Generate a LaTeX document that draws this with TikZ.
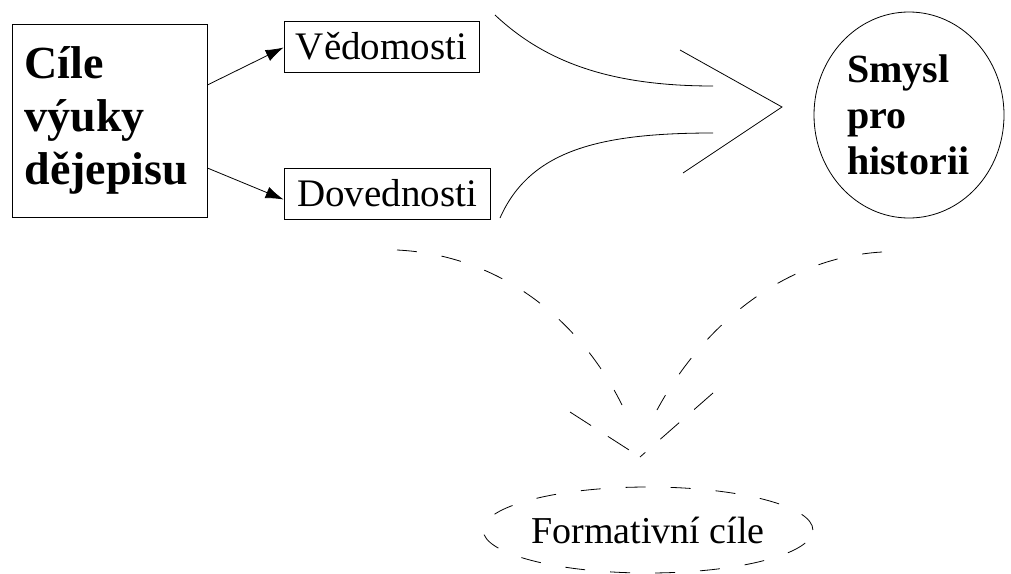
\documentclass[tikz,border=0pt]{standalone}
\usepackage{fontspec}
\setmainfont{LiberationSerif}[Extension=.ttf,UprightFont=*-Regular,BoldFont=*-Bold,ItalicFont=*-Italic,BoldItalicFont=*-BoldItalic]
\usetikzlibrary{shapes.geometric,arrows.meta}
\begin{document}
\begin{tikzpicture}[x=1pt,y=-1pt,
  thinline/.style={line width=0.8pt},
  boxnode/.style={draw,thinline,inner sep=0pt},
  arr/.style={thinline,-{Latex[length=18pt,width=12pt]}},
  dashline/.style={thinline,dash pattern=on 20pt off 25pt},
  smalltext/.style={font=\fontsize{39}{45}\selectfont}
]
\useasboundingbox (0,0) rectangle (1011,573);
\node[boxnode,minimum width=195pt,minimum height=193pt,text width=170pt,align=left,
  font=\fontsize{46}{53}\selectfont\bfseries] (cile) at (109.5,120.5) {Cíle\\výuky\\dějepisu};
\node[boxnode,minimum width=195pt,minimum height=51pt,smalltext] (vedo) at (381.5,46.5) {Vědomosti};
\node[boxnode,minimum width=206pt,minimum height=51pt,smalltext] (dove) at (387,193.5) {Dovednosti};
\node[draw,thinline,ellipse,minimum width=190pt,minimum height=206pt,inner sep=0pt,
  text width=124pt,align=left,font=\fontsize{40}{46}\selectfont\bfseries] (smysl) at (909,115) {Smysl\\pro\\historii};
\node[ellipse,draw,dashline,minimum width=276pt,minimum height=86pt,inner sep=0pt,
  font=\fontsize{38}{44}\selectfont] (form) at (648,530) {Formativní cíle};

\draw[arr] ([yshift=35.5pt]cile.east) -- ([yshift=-1pt]vedo.west);
\draw[arr] ([yshift=-47.5pt]cile.east) -- ([yshift=-6pt]dove.west);

% big solid arrow
\coordinate (u0) at (495,15);
\coordinate (u1) at (713,86);
\coordinate (l0) at (500,218);
\coordinate (l1) at (713,133);
\coordinate (h0) at (680,50);
\coordinate (h1) at (782,107);
\coordinate (h2) at (683,173);
\draw[thinline] (u0) .. controls (545,62) and (610,86) .. (u1);
\draw[thinline] (l0) .. controls (530,150) and (600,133) .. (l1);
\draw[thinline] (h0) -- (h1) -- (h2);

% dashed arrow
\coordinate (d0) at (397,250);
\coordinate (d1) at (622,405);
\coordinate (e0) at (882,252);
\coordinate (e1) at (657,410);
\coordinate (v0) at (570,412);
\coordinate (v1) at (640,457);
\coordinate (v2) at (713,393);
\draw[dashline] (d0) .. controls (500,255) and (580,320) .. (d1);
\draw[dashline] (e0) .. controls (780,258) and (700,330) .. (e1);
\draw[thinline,dash pattern=on 25pt off 20pt] (v0) -- (v1);
\draw[thinline,dash pattern=on 25pt off 20pt] (v2) -- (v1);
\end{tikzpicture}
\end{document}
